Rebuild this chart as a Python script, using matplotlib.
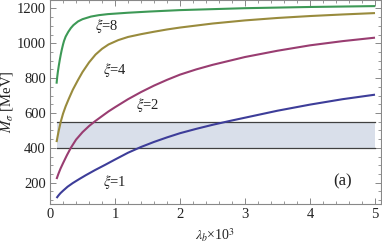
import matplotlib
matplotlib.use("Agg")
import matplotlib.pyplot as plt
from matplotlib.ticker import MultipleLocator

plt.rcParams['font.family'] = ['Liberation Serif', 'DejaVu Serif']
plt.rcParams['mathtext.fontset'] = 'stix'

# Data
lam_xi1 = [0.1, 0.13, 0.16, 0.2, 0.27, 0.35, 0.45, 0.55, 0.69, 0.85, 1.0, 1.2, 1.4, 1.6,
           1.8, 2.0, 2.25, 2.5, 2.75, 3.0, 3.5, 4.0, 4.5, 5.0]
M_xi1 = [112, 127, 140, 154, 177, 198, 221, 243, 272, 303, 333, 372, 405, 434,
         460, 484, 509, 532, 553, 573, 613, 648, 679, 705]

lam_xi2 = [0.1, 0.13, 0.16, 0.2, 0.26, 0.32, 0.4, 0.5, 0.6, 0.69, 0.8, 0.9, 1.0, 1.2, 1.4,
           1.6, 1.8, 2.0, 2.25, 2.5, 3.0, 3.5, 4.0, 4.5, 5.0]
M_xi2 = [221, 252, 280, 312, 358, 400, 447, 490, 525, 552, 582, 609, 633, 679, 720,
         757, 790, 820, 850, 876, 921, 957, 988, 1012, 1032]

lam_xi4 = [0.1, 0.115, 0.13, 0.15, 0.165, 0.2, 0.24, 0.287, 0.35, 0.43, 0.5, 0.6, 0.7, 0.8,
           0.9, 1.05, 1.2, 1.4, 1.6, 1.8, 2.0, 2.5, 3.0, 3.5, 4.0, 4.5, 5.0]
M_xi4 = [433, 463, 492, 525, 550, 596, 638, 680, 733, 789, 835, 890, 935, 968,
         993, 1018, 1036, 1052, 1066, 1079, 1090, 1113, 1131, 1145, 1156, 1165, 1173]

lam_xi8 = [0.1, 0.11, 0.12, 0.135, 0.15, 0.165, 0.18, 0.2, 0.215, 0.24, 0.28, 0.32, 0.36,
           0.43, 0.5, 0.63, 0.75, 0.89, 1.2, 1.54, 2.0, 3.0, 4.0, 5.0]
M_xi8 = [768, 805, 835, 872, 905, 935, 962, 993, 1013, 1038, 1065, 1087, 1104,
         1125, 1138, 1153, 1161, 1167, 1175, 1182, 1190, 1201, 1208, 1213]

band_x = [0.1, 5.0]
band_low = 400
band_high = 550

curve_labels = [r"$\xi$=1", r"$\xi$=2", r"$\xi$=4", r"$\xi$=8"]
label_pos = [(1.0, 206), (1.51, 646), (1.0, 846), (0.88, 1097)]
colors = ["#3d3d99", "#993d71", "#998b3d", "#3d9956"]

fig = plt.figure(figsize=(3.82, 2.44), dpi=100)
ax = fig.add_axes([0.131, 0.164, 0.866, 0.836])

ax.fill_between(band_x, band_low, band_high, color="#d9dfea", lw=0, zorder=1)
ax.plot(band_x, [band_low, band_low], color="#404040", lw=0.9, zorder=2)
ax.plot(band_x, [band_high, band_high], color="#404040", lw=0.9, zorder=2)

for xs, ys, c in zip([lam_xi1, lam_xi2, lam_xi4, lam_xi8],
                     [M_xi1, M_xi2, M_xi4, M_xi8], colors):
    ax.plot(xs, ys, color=c, lw=1.5, zorder=3, solid_capstyle='butt',
            solid_joinstyle='round')

for (x, y), t in zip(label_pos, curve_labels):
    ax.text(x, y, t, ha='center', va='center', fontsize=10.5, color='#222222')

ax.text(4.5, 206, "(a)", ha='center', va='center', fontsize=12, color='#222222')

ax.set_xlim(0, 5.09)
ax.set_ylim(78, 1248)
ax.xaxis.set_major_locator(MultipleLocator(1))
ax.xaxis.set_minor_locator(MultipleLocator(0.2))
ax.yaxis.set_major_locator(MultipleLocator(200))
ax.yaxis.set_minor_locator(MultipleLocator(50))
ax.set_yticks([200, 400, 600, 800, 1000, 1200])

ax.tick_params(which='both', direction='in', top=True, right=True,
               color='#888888', labelsize=10.5, labelcolor='#222222', pad=3)
ax.tick_params(which='major', length=4, width=0.7)
ax.tick_params(which='minor', length=2, width=0.6)
for s in ax.spines.values():
    s.set_color('#888888')
    s.set_linewidth(0.8)

ax.set_xlabel(r"$\lambda_b$×10$^3$", fontsize=10, color='#222222', labelpad=4)
ax.set_ylabel(r"$M_\sigma$ [MeV]", fontsize=10.5, color='#222222', labelpad=1)

fig.savefig("out.png", dpi=100)
